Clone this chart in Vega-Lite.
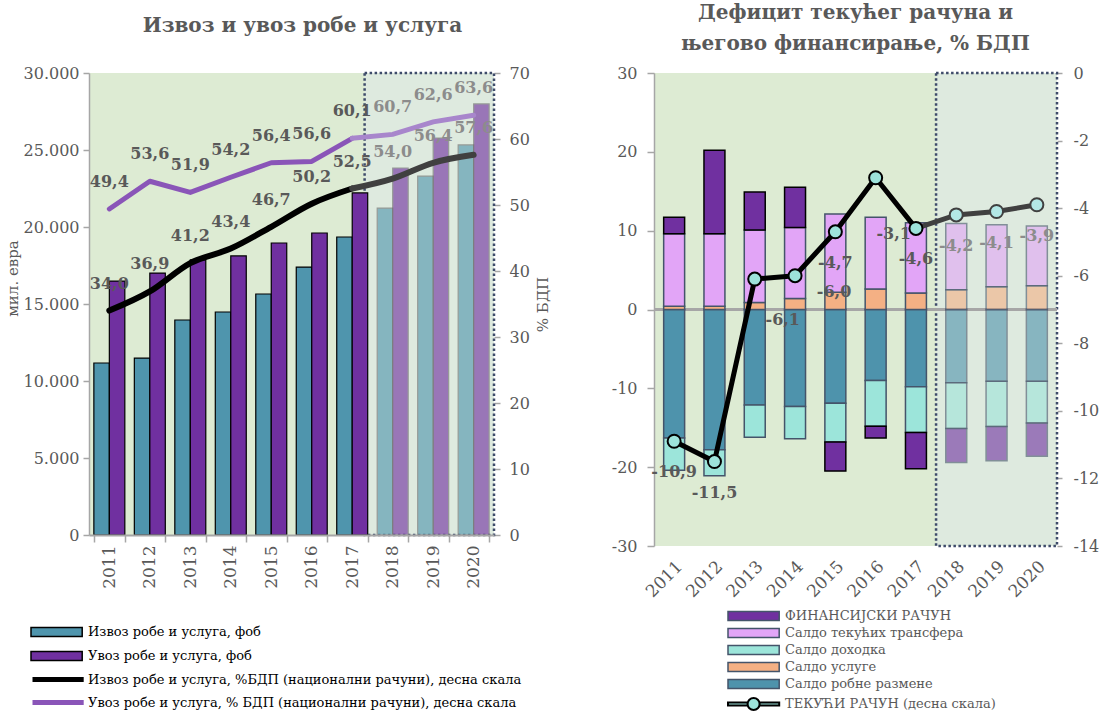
{
  "$schema": "https://vega.github.io/schema/vega-lite/v6.json",
  "padding": {"left": 5, "right": 5, "top": 3, "bottom": 0},
  "spacing": 60,
  "datasets": {
    "fc": [{"from": "2017"}],
    "lbars": [
      {"year": "2011", "item": "Извоз робе и услуга, фоб", "v": 11170},
      {"year": "2012", "item": "Извоз робе и услуга, фоб", "v": 11490},
      {"year": "2013", "item": "Извоз робе и услуга, фоб", "v": 13960},
      {"year": "2014", "item": "Извоз робе и услуга, фоб", "v": 14480},
      {"year": "2015", "item": "Извоз робе и услуга, фоб", "v": 15650},
      {"year": "2016", "item": "Извоз робе и услуга, фоб", "v": 17400},
      {"year": "2017", "item": "Извоз робе и услуга, фоб", "v": 19350},
      {"year": "2018", "item": "Извоз робе и услуга, фоб", "v": 21230},
      {"year": "2019", "item": "Извоз робе и услуга, фоб", "v": 23310},
      {"year": "2020", "item": "Извоз робе и услуга, фоб", "v": 25330},
      {"year": "2011", "item": "Увоз робе и услуга, фоб", "v": 16490},
      {"year": "2012", "item": "Увоз робе и услуга, фоб", "v": 17010},
      {"year": "2013", "item": "Увоз робе и услуга, фоб", "v": 17860},
      {"year": "2014", "item": "Увоз робе и услуга, фоб", "v": 18120},
      {"year": "2015", "item": "Увоз робе и услуга, фоб", "v": 18960},
      {"year": "2016", "item": "Увоз робе и услуга, фоб", "v": 19610},
      {"year": "2017", "item": "Увоз робе и услуга, фоб", "v": 22210},
      {"year": "2018", "item": "Увоз робе и услуга, фоб", "v": 23830},
      {"year": "2019", "item": "Увоз робе и услуга, фоб", "v": 25780},
      {"year": "2020", "item": "Увоз робе и услуга, фоб", "v": 27990}
    ],
    "lpct": [
      {"year": "2011", "k": "E", "s": "Извоз робе и услуга, %БДП (национални рачуни), десна скала", "p": 34.0},
      {"year": "2012", "k": "E", "s": "Извоз робе и услуга, %БДП (национални рачуни), десна скала", "p": 36.9},
      {"year": "2013", "k": "E", "s": "Извоз робе и услуга, %БДП (национални рачуни), десна скала", "p": 41.2},
      {"year": "2014", "k": "E", "s": "Извоз робе и услуга, %БДП (национални рачуни), десна скала", "p": 43.4},
      {"year": "2015", "k": "E", "s": "Извоз робе и услуга, %БДП (национални рачуни), десна скала", "p": 46.7},
      {"year": "2016", "k": "E", "s": "Извоз робе и услуга, %БДП (национални рачуни), десна скала", "p": 50.2},
      {"year": "2017", "k": "E", "s": "Извоз робе и услуга, %БДП (национални рачуни), десна скала", "p": 52.5},
      {"year": "2018", "k": "E", "s": "Извоз робе и услуга, %БДП (национални рачуни), десна скала", "p": 54.0},
      {"year": "2019", "k": "E", "s": "Извоз робе и услуга, %БДП (национални рачуни), десна скала", "p": 56.4},
      {"year": "2020", "k": "E", "s": "Извоз робе и услуга, %БДП (национални рачуни), десна скала", "p": 57.6},
      {"year": "2011", "k": "U", "s": "Увоз робе и услуга, % БДП (национални рачуни), десна скала", "p": 49.4},
      {"year": "2012", "k": "U", "s": "Увоз робе и услуга, % БДП (национални рачуни), десна скала", "p": 53.6},
      {"year": "2013", "k": "U", "s": "Увоз робе и услуга, % БДП (национални рачуни), десна скала", "p": 51.9},
      {"year": "2014", "k": "U", "s": "Увоз робе и услуга, % БДП (национални рачуни), десна скала", "p": 54.2},
      {"year": "2015", "k": "U", "s": "Увоз робе и услуга, % БДП (национални рачуни), десна скала", "p": 56.4},
      {"year": "2016", "k": "U", "s": "Увоз робе и услуга, % БДП (национални рачуни), десна скала", "p": 56.6},
      {"year": "2017", "k": "U", "s": "Увоз робе и услуга, % БДП (национални рачуни), десна скала", "p": 60.1},
      {"year": "2018", "k": "U", "s": "Увоз робе и услуга, % БДП (национални рачуни), десна скала", "p": 60.7},
      {"year": "2019", "k": "U", "s": "Увоз робе и услуга, % БДП (национални рачуни), десна скала", "p": 62.6},
      {"year": "2020", "k": "U", "s": "Увоз робе и услуга, % БДП (национални рачуни), десна скала", "p": 63.6}
    ],
    "rbars": [
      {"year": "2011", "c": "Салдо робне размене", "o": 1, "v": -16.3},
      {"year": "2011", "c": "Салдо услуге", "o": 2, "v": 0.4},
      {"year": "2011", "c": "Салдо доходка", "o": 3, "v": -4.1},
      {"year": "2011", "c": "Салдо текућих  трансфера", "o": 4, "v": 9.2},
      {"year": "2011", "c": "ФИНАНСИЈСКИ РАЧУН", "o": 5, "v": 2.1},
      {"year": "2012", "c": "Салдо робне размене", "o": 1, "v": -17.8},
      {"year": "2012", "c": "Салдо услуге", "o": 2, "v": 0.4},
      {"year": "2012", "c": "Салдо доходка", "o": 3, "v": -3.3},
      {"year": "2012", "c": "Салдо текућих  трансфера", "o": 4, "v": 9.2},
      {"year": "2012", "c": "ФИНАНСИЈСКИ РАЧУН", "o": 5, "v": 10.6},
      {"year": "2013", "c": "Салдо робне размене", "o": 1, "v": -12.1},
      {"year": "2013", "c": "Салдо услуге", "o": 2, "v": 0.9},
      {"year": "2013", "c": "Салдо доходка", "o": 3, "v": -4.1},
      {"year": "2013", "c": "Салдо текућих  трансфера", "o": 4, "v": 9.2},
      {"year": "2013", "c": "ФИНАНСИЈСКИ РАЧУН", "o": 5, "v": 4.8},
      {"year": "2014", "c": "Салдо робне размене", "o": 1, "v": -12.3},
      {"year": "2014", "c": "Салдо услуге", "o": 2, "v": 1.4},
      {"year": "2014", "c": "Салдо доходка", "o": 3, "v": -4.1},
      {"year": "2014", "c": "Салдо текућих  трансфера", "o": 4, "v": 9.0},
      {"year": "2014", "c": "ФИНАНСИЈСКИ РАЧУН", "o": 5, "v": 5.1},
      {"year": "2015", "c": "Салдо робне размене", "o": 1, "v": -11.9},
      {"year": "2015", "c": "Салдо услуге", "o": 2, "v": 2.2},
      {"year": "2015", "c": "Салдо доходка", "o": 3, "v": -4.9},
      {"year": "2015", "c": "Салдо текућих  трансфера", "o": 4, "v": 9.9},
      {"year": "2015", "c": "ФИНАНСИЈСКИ РАЧУН", "o": 5, "v": -3.7},
      {"year": "2016", "c": "Салдо робне размене", "o": 1, "v": -9.0},
      {"year": "2016", "c": "Салдо услуге", "o": 2, "v": 2.6},
      {"year": "2016", "c": "Салдо доходка", "o": 3, "v": -5.8},
      {"year": "2016", "c": "Салдо текућих  трансфера", "o": 4, "v": 9.1},
      {"year": "2016", "c": "ФИНАНСИЈСКИ РАЧУН", "o": 5, "v": -1.5},
      {"year": "2017", "c": "Салдо робне размене", "o": 1, "v": -9.8},
      {"year": "2017", "c": "Салдо услуге", "o": 2, "v": 2.1},
      {"year": "2017", "c": "Салдо доходка", "o": 3, "v": -5.8},
      {"year": "2017", "c": "Салдо текућих  трансфера", "o": 4, "v": 8.9},
      {"year": "2017", "c": "ФИНАНСИЈСКИ РАЧУН", "o": 5, "v": -4.6},
      {"year": "2018", "c": "Салдо робне размене", "o": 1, "v": -9.3},
      {"year": "2018", "c": "Салдо услуге", "o": 2, "v": 2.5},
      {"year": "2018", "c": "Салдо доходка", "o": 3, "v": -5.8},
      {"year": "2018", "c": "Салдо текућих  трансфера", "o": 4, "v": 8.4},
      {"year": "2018", "c": "ФИНАНСИЈСКИ РАЧУН", "o": 5, "v": -4.3},
      {"year": "2019", "c": "Салдо робне размене", "o": 1, "v": -9.1},
      {"year": "2019", "c": "Салдо услуге", "o": 2, "v": 2.9},
      {"year": "2019", "c": "Салдо доходка", "o": 3, "v": -5.75},
      {"year": "2019", "c": "Салдо текућих  трансфера", "o": 4, "v": 7.85},
      {"year": "2019", "c": "ФИНАНСИЈСКИ РАЧУН", "o": 5, "v": -4.35},
      {"year": "2020", "c": "Салдо робне размене", "o": 1, "v": -9.1},
      {"year": "2020", "c": "Салдо услуге", "o": 2, "v": 3.0},
      {"year": "2020", "c": "Салдо доходка", "o": 3, "v": -5.3},
      {"year": "2020", "c": "Салдо текућих  трансфера", "o": 4, "v": 7.6},
      {"year": "2020", "c": "ФИНАНСИЈСКИ РАЧУН", "o": 5, "v": -4.2}
    ],
    "rca": [
      {"year": "2011", "v": -10.9},
      {"year": "2012", "v": -11.5},
      {"year": "2013", "v": -6.1},
      {"year": "2014", "v": -6.0},
      {"year": "2015", "v": -4.7},
      {"year": "2016", "v": -3.1},
      {"year": "2017", "v": -4.6},
      {"year": "2018", "v": -4.2},
      {"year": "2019", "v": -4.1},
      {"year": "2020", "v": -3.9}
    ]
  },
  "hconcat": [
    {
      "width": 405,
      "height": 462,
      "title": {"text": "Извоз и увоз робе и услуга", "frame": "group", "offset": 29, "dx": 11},
      "layer": [
        {
          "data": {"name": "fc"},
          "mark": {"type": "rect", "fill": "#DEEADF", "stroke": "#3E4B6A", "strokeWidth": 2.5, "strokeDash": [2.5, 2.5]},
          "encoding": {
            "x": {"field": "from", "type": "ordinal", "bandPosition": 0.9, "axis": {"title": null, "labelAngle": -90, "labelFontSize": 17, "tickBand": "extent", "tickSize": 7, "labelPadding": 3, "domainWidth": 2}},
            "x2": {"value": "width"},
            "y": {"value": 0},
            "y2": {"value": "height"}
          }
        },
        {
          "data": {"name": "lbars"},
          "mark": {"type": "bar", "strokeWidth": 1.2},
          "encoding": {
            "x": {"field": "year", "type": "ordinal", "scale": {"paddingInner": 0.235, "paddingOuter": 0.12}, "axis": {"title": null, "labelAngle": -90, "labelFontSize": 17, "tickBand": "extent", "tickSize": 7, "labelPadding": 3, "domainWidth": 2}},
            "xOffset": {"field": "item", "type": "nominal", "sort": ["Извоз робе и услуга, фоб", "Увоз робе и услуга, фоб"]},
            "y": {"field": "v", "type": "quantitative", "scale": {"domain": [0, 30000]}, "axis": {"title": "мил. евра", "orient": "left", "values": [0, 5000, 10000, 15000, 20000, 25000, 30000], "format": ",.0f", "tickSize": 6, "labelPadding": 4, "titlePadding": 3, "titleY": 205}},
            "fill": {
              "field": "item", "type": "nominal",
              "scale": {"domain": ["Извоз робе и услуга, фоб", "Увоз робе и услуга, фоб"], "range": ["#4F95AD", "#7030A0"]},
              "legend": {"title": null, "orient": "none", "legendX": -59, "legendY": 550, "symbolType": "M-1,-0.56H5.4V0.56H-1Z", "symbolSize": 256, "labelOffset": 40, "rowPadding": 7, "labelColor": "#000000",
                "encode": {"symbols": {"update": {"stroke": {"value": "#000000"}, "strokeWidth": {"value": 1.5}, "opacity": {"value": 1}}}}}
            },
            "stroke": {"condition": {"test": "datum.year > '2017'", "value": "#6B6B6B"}, "value": "#000000"},
            "opacity": {"condition": {"test": "datum.year > '2017'", "value": 0.62}, "value": 1}
          }
        },
        {
          "data": {"name": "lpct"},
          "encoding": {
            "x": {"field": "year", "type": "ordinal"},
            "y": {"field": "p", "type": "quantitative", "scale": {"domain": [0, 70]}, "axis": {"title": "% БДП", "orient": "right", "values": [0, 10, 20, 30, 40, 50, 60, 70], "domain": false, "tickSize": 6, "labelPadding": 9, "titlePadding": 21, "titleAngle": 270}}
          },
          "layer": [
            {
              "transform": [{"filter": "datum.k == 'U' && datum.year <= '2017'"}],
              "mark": {"type": "line", "strokeWidth": 5, "strokeCap": "round", "strokeJoin": "round"},
              "encoding": {"stroke": {"field": "s", "type": "nominal",
                "scale": {"domain": ["Извоз робе и услуга, %БДП (национални рачуни), десна скала", "Увоз робе и услуга, % БДП (национални рачуни), десна скала"], "range": ["#000000", "#8A55B8"]},
                "legend": {"title": null, "orient": "none", "legendX": -59, "legendY": 596, "symbolType": "M-1,0H5.4", "symbolSize": 256, "symbolStrokeWidth": 5, "labelOffset": 37, "rowPadding": 2, "labelColor": "#000000"}}}
            },
            {
              "transform": [{"filter": "datum.k == 'U' && datum.year >= '2017'"}],
              "mark": {"type": "line", "strokeWidth": 5, "strokeCap": "round", "stroke": "#A886CC"}
            },
            {
              "transform": [{"filter": "datum.k == 'E' && datum.year <= '2017'"}],
              "mark": {"type": "line", "strokeWidth": 6, "interpolate": "monotone", "strokeCap": "round"},
              "encoding": {"stroke": {"field": "s", "type": "nominal",
                "scale": {"domain": ["Извоз робе и услуга, %БДП (национални рачуни), десна скала", "Увоз робе и услуга, % БДП (национални рачуни), десна скала"], "range": ["#000000", "#8A55B8"]},
                "legend": {"title": null, "orient": "none", "legendX": -59, "legendY": 596, "symbolType": "M-1,0H5.4", "symbolSize": 256, "symbolStrokeWidth": 5, "labelOffset": 37, "rowPadding": 2, "labelColor": "#000000"}}}
            },
            {
              "transform": [{"filter": "datum.k == 'E' && datum.year >= '2017'"}],
              "mark": {"type": "line", "strokeWidth": 6, "interpolate": "monotone", "strokeCap": "round", "stroke": "#404040"}
            },
            {
              "mark": {"type": "text", "fontSize": 16, "fontWeight": "bold", "dy": -27},
              "encoding": {
                "text": {"field": "p", "type": "quantitative", "format": ".1f"},
                "fill": {"condition": {"test": "datum.year > '2017'", "value": "#8C8C8C"}, "value": "#595959"}
              }
            }
          ]
        }
      ],
      "resolve": {"scale": {"y": "independent"}}
    },
    {
      "width": 403,
      "height": 473,
      "title": {"text": ["Дефицит текућег рачуна и", "његово финансирање, % БДП"], "frame": "group", "offset": 11},
      "layer": [
        {
          "data": {"name": "fc"},
          "mark": {"type": "rect", "fill": "#DEEADF", "stroke": "#3E4B6A", "strokeWidth": 2.5, "strokeDash": [2.5, 2.5]},
          "encoding": {
            "x": {"field": "from", "type": "ordinal", "bandPosition": 1.46, "axis": {"title": null, "labelAngle": -45, "labelFontSize": 17, "domain": false, "ticks": false, "labelPadding": 12}},
            "x2": {"value": "width"},
            "y": {"value": 0},
            "y2": {"value": "height"}
          }
        },
        {
          "data": {"name": "rbars"},
          "layer": [
            {
              "mark": {"type": "rule", "stroke": "#A6A6A6", "strokeWidth": 2},
              "encoding": {"y": {"datum": 0, "type": "quantitative", "scale": {"domain": [-30, 30]}, "axis": {"title": null, "orient": "left", "values": [-30, -20, -10, 0, 10, 20, 30], "tickSize": 7, "labelPadding": 10}}}
            },
            {
              "mark": {"type": "bar", "strokeWidth": 1.5},
              "encoding": {
                "x": {"field": "year", "type": "ordinal", "scale": {"paddingInner": 0.48, "paddingOuter": 0.24}, "axis": {"title": null, "labelAngle": -45, "labelFontSize": 17, "domain": false, "ticks": false, "labelPadding": 12}},
                "y": {"field": "v", "type": "quantitative", "scale": {"domain": [-30, 30]}, "axis": {"title": null, "orient": "left", "values": [-30, -20, -10, 0, 10, 20, 30], "tickSize": 7, "labelPadding": 10}},
                "fill": {
                  "field": "c", "type": "nominal",
                  "scale": {"domain": ["ФИНАНСИЈСКИ РАЧУН", "Салдо текућих  трансфера", "Салдо доходка", "Салдо услуге", "Салдо робне размене"], "range": ["#7030A0", "#E2A5F7", "#9CE5DA", "#F4B084", "#4E93AC"]},
                  "legend": {"title": null, "orient": "none", "legendX": 73, "legendY": 534, "symbolType": "M-1,-0.56H5.4V0.56H-1Z", "symbolSize": 256, "labelOffset": 40, "rowPadding": 0, "labelColor": "#595959",
                    "encode": {"symbols": {"update": {"stroke": {"value": "#3B4660"}, "strokeWidth": {"value": 1.5}, "opacity": {"value": 1}}}}}
                },
                "order": {"field": "o", "type": "quantitative"},
                "stroke": {"condition": {"test": "datum.o == 5 && datum.year <= '2017'", "value": "#000000"}, "value": "#44546A"},
                "opacity": {"condition": {"test": "datum.year > '2017'", "value": 0.6}, "value": 1}
              }
            }
          ]
        },
        {
          "data": {"name": "rca"},
          "encoding": {
            "x": {"field": "year", "type": "ordinal"},
            "y": {"field": "v", "type": "quantitative", "scale": {"domain": [-14, 0]}, "axis": {"title": null, "orient": "right", "values": [-14, -12, -10, -8, -6, -4, -2, 0], "domain": false, "tickSize": 5, "labelPadding": 11}}
          },
          "layer": [
            {
              "transform": [{"filter": "datum.year <= '2017'"}],
              "mark": {"type": "line", "strokeWidth": 5, "strokeJoin": "round"},
              "encoding": {"stroke": {"datum": "ТЕКУЋИ РАЧУН (десна скала)", "type": "nominal", "scale": {"range": ["#000000"]},
                "legend": {"title": null, "orient": "none", "legendX": 73, "legendY": 622, "symbolType": "M-1,-0.18H1.45V0.18H-1Z M2.95,-0.18H5.4V0.18H2.95Z M2.95,0A0.75,0.75 0 1,1 1.45,0A0.75,0.75 0 1,1 2.95,0Z", "symbolSize": 256, "labelOffset": 40, "labelColor": "#595959",
                  "encode": {"symbols": {"update": {"fill": {"value": "#9DE3DB"}, "stroke": {"value": "#000000"}, "strokeWidth": {"value": 2}}}}}}}
            },
            {
              "transform": [{"filter": "datum.year >= '2017'"}],
              "mark": {"type": "line", "strokeWidth": 5, "stroke": "#404040"}
            },
            {
              "mark": {"type": "point", "filled": true, "size": 170, "strokeWidth": 2, "opacity": 1},
              "encoding": {
                "fill": {"condition": {"test": "datum.year > '2017'", "value": "#B3E8E6"}, "value": "#9DE3DB"},
                "stroke": {"condition": {"test": "datum.year > '2017'", "value": "#404040"}, "value": "#000000"}
              }
            },
            {
              "transform": [{"filter": "indexof(['2013', '2014', '2016'], datum.year) < 0"}],
              "mark": {"type": "text", "fontSize": 16, "fontWeight": "bold", "dy": 31},
              "encoding": {
                "text": {"field": "v", "type": "quantitative", "format": ".1f"},
                "fill": {"condition": {"test": "datum.year > '2017'", "value": "#8C8C8C"}, "value": "#595959"}
              }
            },
            {
              "transform": [{"filter": "datum.year == '2013'"}],
              "mark": {"type": "text", "fontSize": 16, "fontWeight": "bold", "dx": 28, "dy": 41, "fill": "#595959"},
              "encoding": {"text": {"field": "v", "type": "quantitative", "format": ".1f"}}
            },
            {
              "transform": [{"filter": "datum.year == '2014'"}],
              "mark": {"type": "text", "fontSize": 16, "fontWeight": "bold", "dx": 39, "dy": 16, "fill": "#595959"},
              "encoding": {"text": {"field": "v", "type": "quantitative", "format": ".1f"}}
            },
            {
              "transform": [{"filter": "datum.year == '2016'"}],
              "mark": {"type": "text", "fontSize": 16, "fontWeight": "bold", "dx": 18, "dy": 56, "fill": "#595959"},
              "encoding": {"text": {"field": "v", "type": "quantitative", "format": ".1f"}}
            }
          ]
        }
      ],
      "resolve": {"scale": {"y": "independent"}}
    }
  ],
  "resolve": {"scale": {"fill": "independent", "stroke": "independent"}},
  "config": {
    "font": "DejaVu Serif",
    "locale": {"number": {"decimal": ",", "thousands": ".", "grouping": [3], "currency": ["", ""], "minus": "-"}},
    "view": {"fill": "#DDEBD3", "stroke": null},
    "axis": {"labelColor": "#595959", "labelFontSize": 16, "titleColor": "#595959", "titleFontSize": 15, "titleFontWeight": "normal", "domainColor": "#A6A6A6", "domainWidth": 1.5, "tickColor": "#A6A6A6", "tickWidth": 1.5, "grid": false},
    "title": {"fontSize": 20, "fontWeight": "bold", "color": "#595959", "anchor": "middle", "lineHeight": 31},
    "legend": {"labelFontSize": 13, "labelLimit": 600, "padding": 0}
  }
}
